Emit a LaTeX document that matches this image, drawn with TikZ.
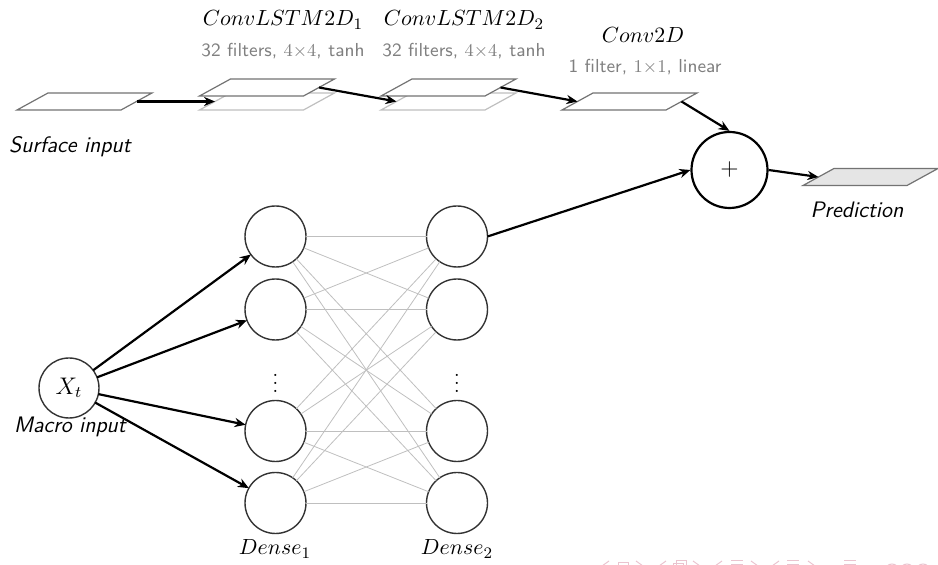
\documentclass[tikz,border=0pt]{standalone}
\usetikzlibrary{arrows.meta}
\definecolor{navpink}{RGB}{234,196,207}
% a slanted feature-map slab: name, centre x, centre y, stroke, fill
\newcommand\slab[5]{%
  \coordinate (#1) at (#2,#3);
  \draw[draw=#4, fill=#5, line width=0.6pt]
    (#2-67.5,#3+8.5) -- (#2-36.5,#3-8.5) -- (#2+67.5,#3-8.5) -- (#2+36.5,#3+8.5) -- cycle;
  \coordinate (#1-w) at (#2-52,#3);
  \coordinate (#1-e) at (#2+52,#3);
}
\begin{document}
\begin{tikzpicture}[x=0.5pt,y=-0.5pt,
  neuron/.style={circle, draw=black!80, line width=0.7pt, minimum size=30.5pt,
    inner sep=0pt, outer sep=0pt},
  flow/.style={-{Stealth[length=5.5pt,width=4.6pt]}, line width=1.1pt},
  link/.style={draw=black!25, line width=0.4pt},
  caption/.style={font=\fontsize{11.2}{13}\selectfont\sffamily\itshape},
  spec/.style={text=black!50, font=\fontsize{9.4}{11}\selectfont\sffamily},
  lname/.style={font=\fontsize{11.4}{14}\selectfont},
  navmark/.style={draw=navpink, line width=0.5pt}
]
\useasboundingbox (0,0) rectangle (938,565);

% --- convolutional branch ---
\slab{surf}{84.5}{101.5}{black!55}{white}
\node[caption] (surflbl) at (70,147) {Surface input};

\slab{l1b}{267}{101.5}{black!25}{white}
\slab{l1f}{267}{87.5}{black!55}{white}
\node[lname] (l1name) at (283,20) {$ConvLSTM2D_1$};
\node[spec] (l1spec) at (283,51) {32 filters, $4{\times}4$, tanh};

\slab{l2b}{448.5}{101.5}{black!25}{white}
\slab{l2f}{448.5}{87.5}{black!55}{white}
\node[lname] (l2name) at (464,20) {$ConvLSTM2D_2$};
\node[spec] (l2spec) at (464,51) {32 filters, $4{\times}4$, tanh};

\slab{c2d}{629.5}{101.5}{black!55}{white}
\node[lname] (c2dname) at (643,35) {$Conv2D$};
\node[spec] (c2dspec) at (645,67) {1 filter, $1{\times}1$, linear};

% --- merge and output ---
\node[circle, draw, line width=1.1pt, minimum size=38pt, inner sep=0pt,
  font=\fontsize{13}{15}\selectfont] (plus) at (729.5,170) {$+$};
\slab{pred}{870.5}{177}{black!55}{black!10}
\node[caption] (predlbl) at (857,210) {Prediction};

% --- dense branch ---
\node[neuron, minimum size=30pt, font=\fontsize{11.5}{13}\selectfont] (xt) at (69,388) {$X_t$};
\node[caption] (xtlbl) at (70,427) {Macro input};

\foreach \n/\yy in {1/236.5, 2/309.5, 3/431, 4/503} {
  \node[neuron] (a\n) at (275.5,\yy) {};
  \node[neuron] (b\n) at (457,\yy) {};
}
\node[inner sep=0pt] (adots) at (275.5,377) {$\vdots$};
\node[inner sep=0pt] (bdots) at (457,377) {$\vdots$};
\node[lname] (aname) at (275,549) {$Dense_1$};
\node[lname] (bname) at (457,549) {$Dense_2$};

\foreach \i in {1,...,4} {
  \foreach \j in {1,...,4} {
    \draw[link] (a\i) -- (b\j);
  }
}

% --- connectors ---
\draw[flow] (surf-e) -- (l1b-w);
\draw[flow] (l1f-e) -- (l2b-w);
\draw[flow] (l2f-e) -- (c2d-w);
\draw[flow] (c2d-e) -- (plus.north);
\draw[flow] (b1.east) -- (plus.west);
\draw[flow] (plus.east) -- (pred-w);
\foreach \n in {1,...,4} {
  \draw[flow] (xt) -- (a\n);
}

% --- slide navigation symbols, cut by the bottom edge ---
\foreach \xx in {605,662,718,775} {
  \draw[navmark] (\xx+4,561) -- (\xx-3,566) -- (\xx+4,571);
}
\foreach \xx in {640,697,755,812} {
  \draw[navmark] (\xx-4,561) -- (\xx+3,566) -- (\xx-4,571);
}
\draw[navmark] (618,563) rectangle (628,575);
\draw[navmark] (673,564) rectangle (683,575);
\draw[navmark] (676,561) rectangle (686,572);
\foreach \xx in {737,793,850} {
  \draw[navmark] (\xx-6,561) -- (\xx+6,561);
  \draw[navmark] (\xx-6,565) -- (\xx+6,565);
}
\foreach \xx in {892,907,923} {
  \draw[navmark] (\xx,571) circle (7);
}
\end{tikzpicture}
\end{document}
